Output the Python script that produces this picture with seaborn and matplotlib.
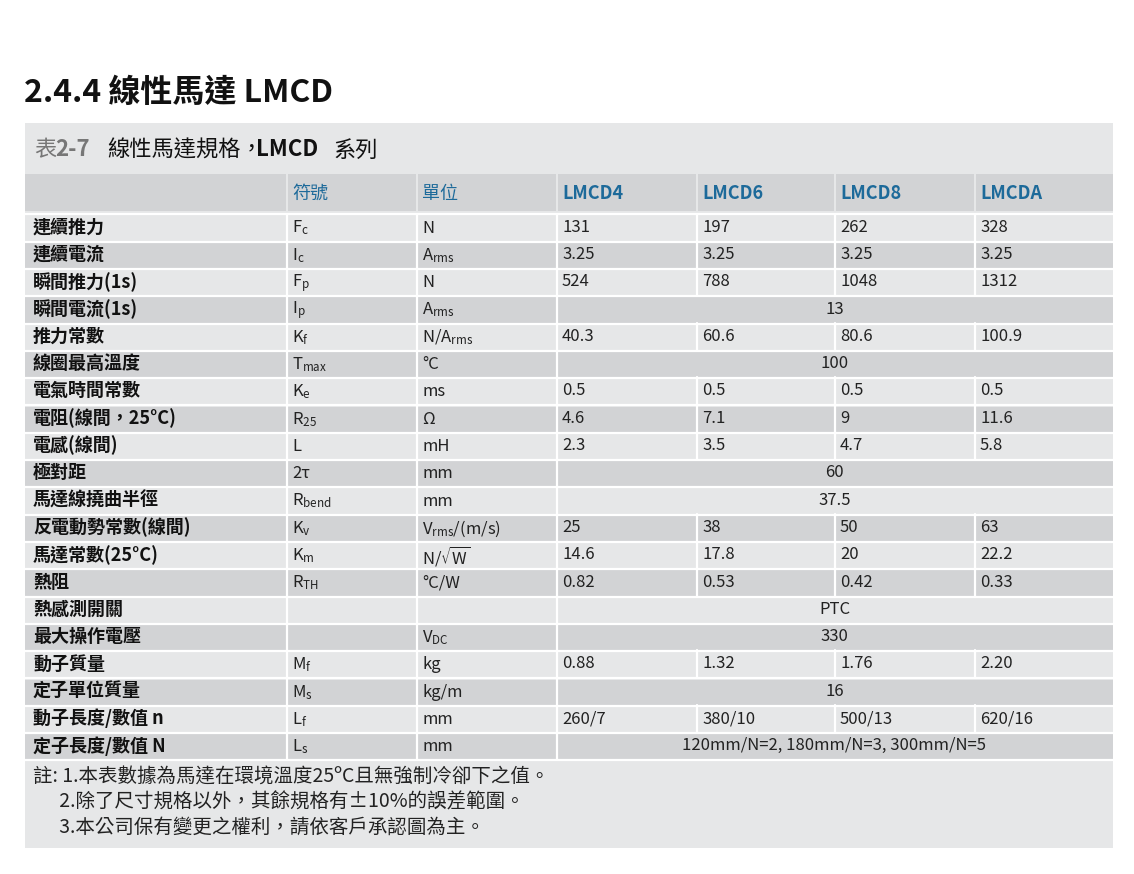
import matplotlib
matplotlib.use("Agg")
import matplotlib.pyplot as plt
import seaborn as sns
from matplotlib.patches import Rectangle

sns.set_theme(style="white")
plt.rcParams["font.family"] = ["Noto Sans CJK TC", "DejaVu Sans"]
plt.rcParams["mathtext.fontset"] = "dejavusans"

title = "2.4.4 線性馬達 LMCD"
caption = "線性馬達規格，"
models = ["LMCD4", "LMCD6", "LMCD8", "LMCDA"]
header = ["", "符號", "單位"] + models

names = ["連續推力", "連續電流", "瞬間推力(1s)", "瞬間電流(1s)", "推力常數", "線圈最高溫度",
         "電氣時間常數", "電阻(線間，25°C)", "電感(線間)", "極對距", "馬達線撓曲半徑",
         "反電動勢常數(線間)", "馬達常數(25°C)", "熱阻", "熱感測開關", "最大操作電壓",
         "動子質量", "定子單位質量", "動子長度/數值 n", "定子長度/數值 N"]
symbols = [r"$\mathregular{F_c}$", r"$\mathregular{I_c}$", r"$\mathregular{F_p}$", r"$\mathregular{I_p}$",
           r"$\mathregular{K_f}$", r"$\mathregular{T_{max}}$", r"$\mathregular{K_e}$",
           r"$\mathregular{R_{25}}$", "L", "2τ", r"$\mathregular{R_{bend}}$", r"$\mathregular{K_v}$",
           r"$\mathregular{K_m}$", r"$\mathregular{R_{TH}}$", "", "",
           r"$\mathregular{M_f}$", r"$\mathregular{M_s}$", r"$\mathregular{L_f}$", r"$\mathregular{L_s}$"]
units = ["N", r"$\mathregular{A_{rms}}$", "N", r"$\mathregular{A_{rms}}$", r"$\mathregular{N/A_{rms}}$",
         "°C", "ms", "Ω", "mH", "mm", "mm", r"$\mathregular{V_{rms}/(m/s)}$",
         r"$\mathregular{N/\sqrt{W}}$", "°C/W", "", r"$\mathregular{V_{DC}}$", "kg", "kg/m", "mm", "mm"]
values = [
    ["131", "197", "262", "328"],
    ["3.25", "3.25", "3.25", "3.25"],
    ["524", "788", "1048", "1312"],
    "13",
    ["40.3", "60.6", "80.6", "100.9"],
    "100",
    ["0.5", "0.5", "0.5", "0.5"],
    ["4.6", "7.1", "9", "11.6"],
    ["2.3", "3.5", "4.7", "5.8"],
    "60",
    "37.5",
    ["25", "38", "50", "63"],
    ["14.6", "17.8", "20", "22.2"],
    ["0.82", "0.53", "0.42", "0.33"],
    "PTC",
    "330",
    ["0.88", "1.32", "1.76", "2.20"],
    "16",
    ["260/7", "380/10", "500/13", "620/16"],
    "120mm/N=2, 180mm/N=3, 300mm/N=5",
]
notes = ["註: 1.本表數據為馬達在環境溫度25ºC且無強制冷卻下之值。",
         "      2.除了尺寸規格以外，其餘規格有±10%的誤差範圍。",
         "      3.本公司保有變更之權利，請依客戶承認圖為主。"]

col_edges = [25, 286, 416, 556, 696, 834, 974, 1113]
light, dark = "#e6e7e8", "#d2d3d5"
blue = "#1d6a9a"

fig = plt.figure(figsize=(11.34, 8.74), dpi=100)
ax = fig.add_axes([0, 0, 1, 1])
ax.set_xlim(0, 1134)
ax.set_ylim(874, 0)
ax.axis("off")

ax.text(24, 93, title, fontsize=23, va="center", ha="left", color="#111111", weight="bold")
ax.add_patch(Rectangle((25, 123), 1088, 725, color=light, lw=0))
ax.text(34, 150, "表", fontsize=16, va="center", color="#777777")
ax.text(55, 150, "2-7", fontsize=16, va="center", color="#777777", weight="bold")
ax.text(107, 150, caption, fontsize=16, va="center", color="#111111")
ax.text(256, 150, "LMCD", fontsize=16, va="center", color="#111111", weight="bold")
ax.text(333, 150, "系列", fontsize=16, va="center", color="#111111")

sep = 2
# header row
hy0, hy1 = 174, 211
for c in range(7):
    x0, x1 = col_edges[c], col_edges[c + 1]
    ax.add_patch(Rectangle((x0 + (sep if c else 0), hy0), x1 - x0 - (sep if c else 0), hy1 - hy0, color=dark, lw=0))
    ax.text(x0 + 6, (hy0 + hy1) / 2 + 1, header[c], fontsize=13, va="center", color=blue,
            weight="bold" if c >= 3 else "normal")

row_h = 27.3
top = 213.5
for r in range(len(names)):
    y0 = top + r * row_h
    yc = y0 + row_h / 2
    color = light if r % 2 == 0 else dark
    ax.add_patch(Rectangle((25, y0 + sep), 1088, row_h - sep, color=color, lw=0))
    ax.plot([25, 1113], [y0 + 0.8, y0 + 0.8], color="white", lw=1.6)
    for c in range(1, 4):
        ax.plot([col_edges[c] + 1, col_edges[c] + 1], [y0, y0 + row_h], color="white", lw=1.6)
    if isinstance(values[r], list):
        for c in range(4, 7):
            ax.plot([col_edges[c] + 1, col_edges[c] + 1], [y0, y0 + row_h], color="white", lw=1.6)
        for i, v in enumerate(values[r]):
            ax.text(col_edges[3 + i] + 6, yc, v, fontsize=12, va="center", color="#222222")
    else:
        ax.text((col_edges[3] + col_edges[7]) / 2, yc, values[r], fontsize=12, va="center",
                ha="center", color="#222222")
    ax.text(33, yc, names[r], fontsize=13, va="center", color="#111111", weight="semibold")
    ax.text(col_edges[1] + 6, yc + 1, symbols[r], fontsize=12, va="center", color="#222222")
    ax.text(col_edges[2] + 6, yc + 1, units[r], fontsize=12, va="center", color="#222222")

ax.plot([25, 1113], [top + 20 * row_h + 0.8] * 2, color="white", lw=1.6)
for i, n in enumerate(notes):
    ax.text(33, 777 + i * 25, n, fontsize=14, va="center", color="#222222")

fig.savefig("out.png", dpi=100)
